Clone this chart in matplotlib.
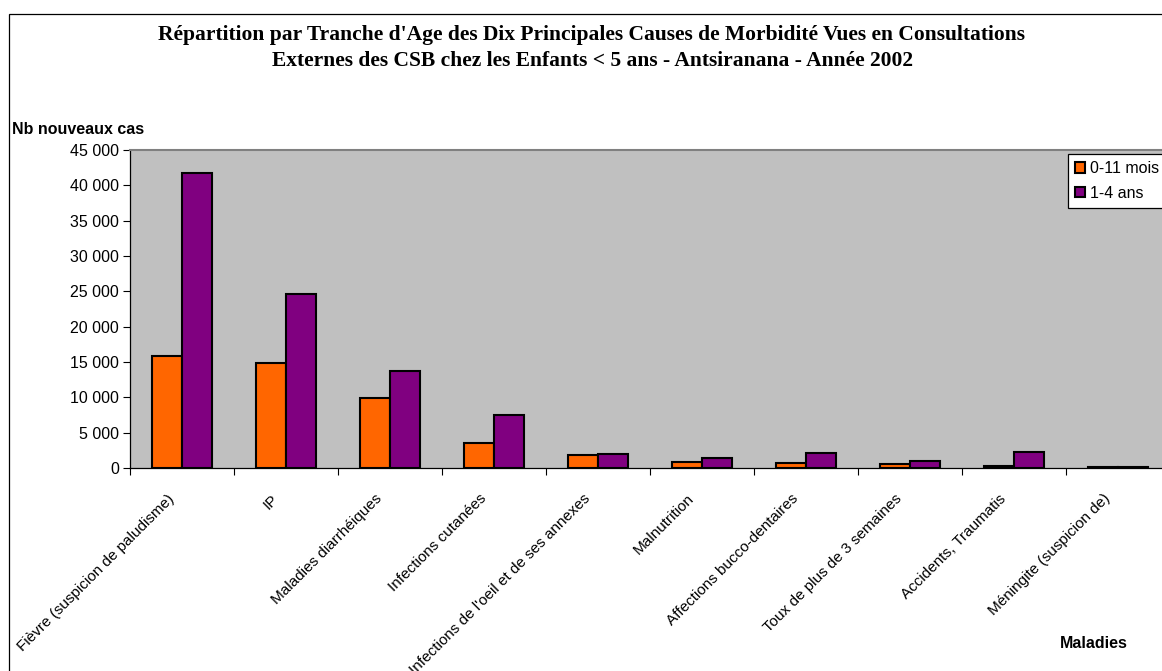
import numpy as np
import matplotlib
matplotlib.use("Agg")
import matplotlib.pyplot as plt
from matplotlib.ticker import FuncFormatter, FixedLocator
from matplotlib.transforms import ScaledTranslation
from matplotlib.patches import Rectangle

# data
maladies = ["Fièvre (suspicion de paludisme)", "IP", "Maladies diarrhéiques",
            "Infections cutanées", "Infections de l'oeil et de ses annexes",
            "Malnutrition", "Affections bucco-dentaires",
            "Toux de plus de 3 semaines", "Accidents, Traumatis",
            "Méningite (suspicion de)"]
mois_0_11 = [15900, 14900, 9850, 3500, 1900, 800, 680, 570, 300, 130]
ans_1_4 = [41700, 24600, 13700, 7450, 2000, 1400, 2100, 950, 2200, 140]
series_labels = ["0-11 mois", "1-4 ans"]

plt.rcParams['font.family'] = ['Liberation Sans', 'DejaVu Sans']

W, H = 1162, 671
fig = plt.figure(figsize=(W / 100, H / 100), dpi=100)
fig.patch.set_facecolor('white')

# chart frame (runs off the right and bottom edge)
fig.patches.append(Rectangle((9 / W, -0.1), 1.2, 1 - 14 / H + 0.1,
                             transform=fig.transFigure, fill=False,
                             edgecolor='black', linewidth=0.9))

ax = fig.add_axes([130 / W, (H - 468) / H, 1040 / W, 318 / H])
ax.set_facecolor('#C0C0C0')

x = np.arange(len(maladies))
w = 0.29
ax.bar(x - w / 2, mois_0_11, w, color='#FF6600', edgecolor='black',
       linewidth=1.5, label=series_labels[0])
ax.bar(x + w / 2, ans_1_4, w, color='#800080', edgecolor='black',
       linewidth=1.5, label=series_labels[1])

ax.set_xlim(-0.5, len(maladies) - 0.5)
ax.set_ylim(0, 45000)
ax.set_yticks(np.arange(0, 45001, 5000))
ax.yaxis.set_major_formatter(FuncFormatter(lambda v, p: f"{int(v):,}".replace(",", " ")))
ax.tick_params(axis='y', direction='out', length=5, width=0.8, labelsize=11.5, pad=3)

ax.set_xticks(x)
ax.set_xticklabels(maladies, rotation=45, ha='right', va='top',
                   rotation_mode='anchor', fontsize=11)
ax.tick_params(axis='x', which='major', length=0, pad=17)
ax.xaxis.set_minor_locator(FixedLocator(np.arange(-0.5, len(maladies), 1.0)))
ax.tick_params(axis='x', which='minor', direction='out', length=5, width=0.8)
shift = ScaledTranslation(-15 / 100, 0, fig.dpi_scale_trans)
for lab in ax.get_xticklabels():
    lab.set_transform(lab.get_transform() + shift)

for s in ['left', 'bottom']:
    ax.spines[s].set_color('black')
    ax.spines[s].set_linewidth(0.9)
ax.spines['top'].set_color('#808080')
ax.spines['top'].set_linewidth(1.5)
ax.spines['right'].set_visible(False)

leg = ax.legend(loc='upper left', bbox_to_anchor=(1068 / W, 1 - 154 / H),
                bbox_transform=fig.transFigure, fontsize=11.5, frameon=True,
                fancybox=False, framealpha=1, handlelength=0.6, handleheight=0.6,
                handletextpad=0.3, borderpad=0.45, labelspacing=0.6,
                borderaxespad=0)
leg.get_frame().set_edgecolor('black')
leg.get_frame().set_facecolor('white')
leg.get_frame().set_linewidth(0.9)
for h in leg.legend_handles:
    h.set_linewidth(1.5)

title_lines = ["Répartition par Tranche d'Age des Dix Principales Causes de Morbidité Vues en Consultations",
               "Externes des CSB chez les Enfants < 5 ans - Antsiranana - Année 2002"]
for i, line in enumerate(title_lines):
    fig.text(592 / W, 1 - (35 + 26 * i) / H, line, ha='center', va='center',
             fontsize=15.5, fontweight='bold', family='Liberation Serif')

fig.text(12 / W, 1 - 130 / H, "Nb nouveaux cas", ha='left', va='center',
         fontsize=11.5, fontweight='bold')
fig.text(1094 / W, 1 - 644 / H, "Maladies", ha='center', va='center',
         fontsize=11.5, fontweight='bold')

fig.savefig('out.png', dpi=100)
